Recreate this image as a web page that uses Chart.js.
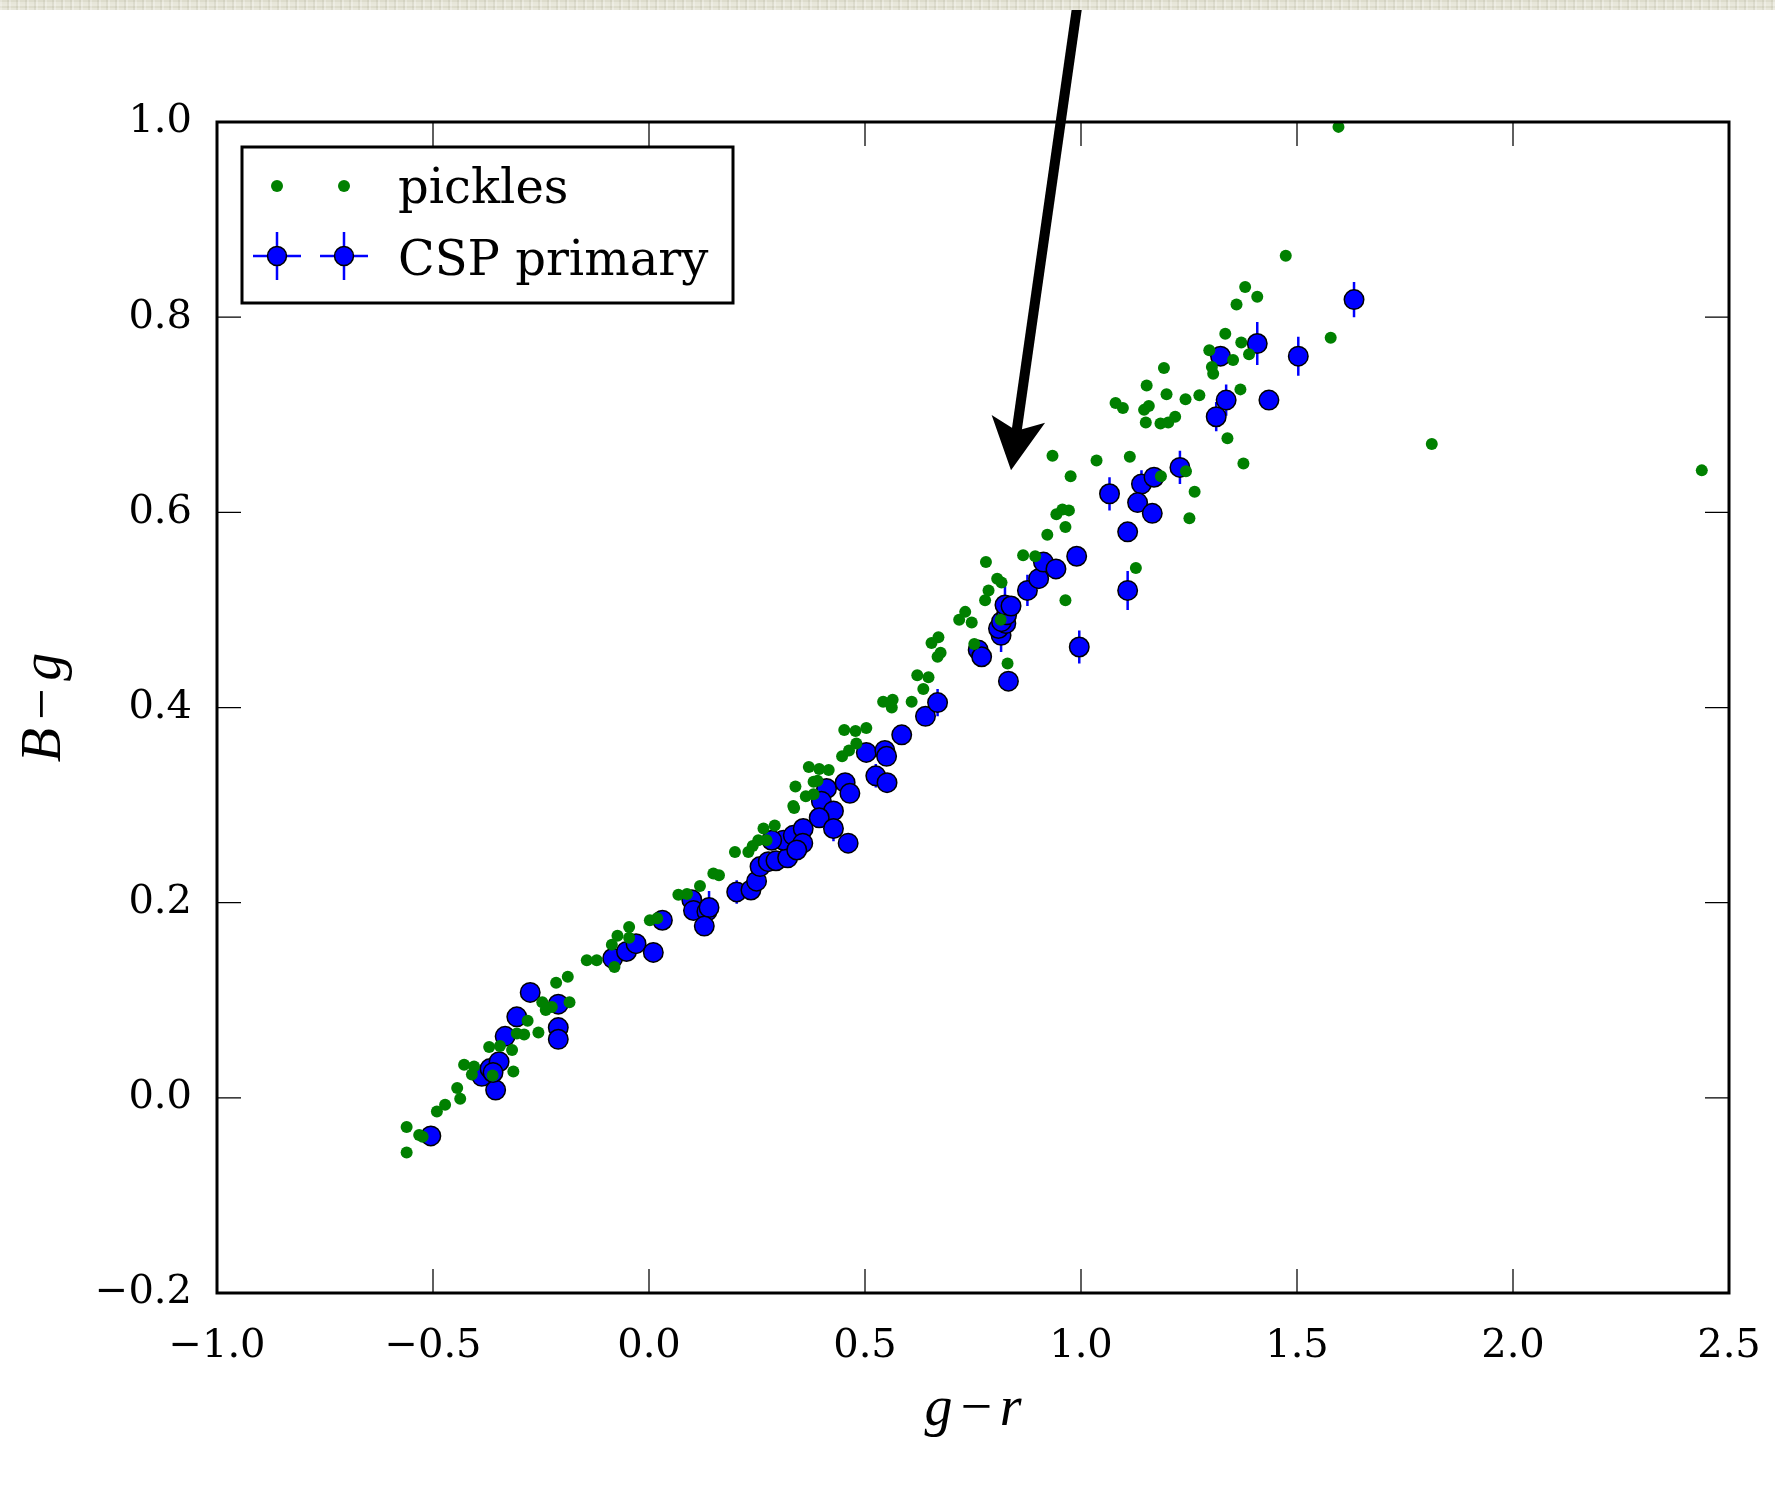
<!DOCTYPE html>
<html>
<head>
<meta charset="utf-8">
<title>B-g vs g-r</title>
<script src="https://cdn.jsdelivr.net/npm/chart.js@4.4.1/dist/chart.umd.min.js"></script>
<style>
  html, body { margin: 0; padding: 0; background: #fff; }
  #wrap { position: relative; width: 1775px; height: 1494px; }
  #strip {
    position: absolute; left: 0; top: 0; width: 1775px; height: 10px; z-index: 2;
    background:
      repeating-linear-gradient(90deg, rgba(255,255,255,0.25) 0 2px, rgba(0,0,0,0) 2px 7px, rgba(120,118,90,0.10) 7px 9px),
      repeating-linear-gradient(0deg, #e7e6d9 0 2px, #dddccc 2px 4px, #e9e8dc 4px 6px);
  }
  canvas { position: absolute; left: 0; top: 0; }
</style>
</head>
<body>
<div id="wrap">
  <div id="strip"></div>
  <canvas id="colorChart" width="1775" height="1494"></canvas>
</div>
<script>
// pickles library stars: g-r and B-g colours
const picklesGR = [
  -0.561, -0.561, -0.532, -0.524, -0.491, -0.472, -0.444, -0.437, -0.428, -0.405,
  -0.410, -0.370, -0.345, -0.317, -0.362, -0.314, -0.306, -0.289, -0.281, -0.256,
  -0.247, -0.239, -0.225, -0.184, -0.215, -0.188, -0.144, -0.121, -0.080, -0.086,
  -0.073, -0.046, -0.046, 0.002, 0.019, 0.068, 0.088, 0.118, 0.149, 0.162,
  0.199, 0.230, 0.240, 0.253, 0.272, 0.265, 0.291, 0.334, 0.336, 0.339,
  0.363, 0.381, 0.381, 0.390, 0.370, 0.394, 0.416, 0.447, 0.463, 0.480,
  0.452, 0.478, 0.503, 0.542, 0.562, 0.608, 0.564, 0.635, 0.621, 0.647,
  0.654, 0.670, 0.668, 0.675, 0.718, 0.732, 0.747, 0.753, 0.778, 0.786,
  0.780, 0.806, 0.816, 0.814, 0.830, 0.866, 0.894, 0.922, 0.943, 0.957,
  0.972, 0.964, 0.964, 1.127, 1.251, 1.192, 1.152, 1.198, 1.242, 1.080,
  1.097, 1.146, 1.157, 1.150, 1.184, 1.202, 1.218, 0.934, 1.036, 1.113,
  0.976, 1.185, 1.243, 1.474, 1.380, 1.408, 1.360, 1.334, 1.371, 1.297,
  1.352, 1.389, 1.303, 1.306, 1.578, 1.274, 1.369, 1.339, 1.376, 1.812,
  2.437, 1.263, 1.596
];
const picklesBG = [
  -0.030, -0.056, -0.038, -0.040, -0.014, -0.007, 0.010, -0.001, 0.034, 0.032,
  0.024, 0.052, 0.053, 0.049, 0.023, 0.027, 0.066, 0.065, 0.079, 0.067,
  0.098, 0.090, 0.093, 0.098, 0.118, 0.124, 0.141, 0.141, 0.134, 0.157,
  0.166, 0.175, 0.164, 0.182, 0.184, 0.208, 0.209, 0.217, 0.230, 0.228,
  0.252, 0.252, 0.258, 0.264, 0.264, 0.276, 0.279, 0.299, 0.297, 0.319,
  0.309, 0.311, 0.324, 0.325, 0.339, 0.337, 0.336, 0.350, 0.356, 0.363,
  0.377, 0.376, 0.379, 0.406, 0.400, 0.406, 0.408, 0.419, 0.433, 0.431,
  0.466, 0.472, 0.452, 0.456, 0.490, 0.498, 0.487, 0.465, 0.510, 0.520,
  0.549, 0.532, 0.528, 0.490, 0.445, 0.556, 0.555, 0.577, 0.598, 0.603,
  0.602, 0.585, 0.510, 0.543, 0.594, 0.748, 0.730, 0.721, 0.716, 0.712,
  0.707, 0.705, 0.709, 0.692, 0.691, 0.692, 0.698, 0.658, 0.653, 0.657,
  0.637, 0.637, 0.642, 0.863, 0.831, 0.821, 0.813, 0.783, 0.774, 0.766,
  0.756, 0.762, 0.749, 0.742, 0.779, 0.720, 0.726, 0.676, 0.650, 0.670,
  0.643, 0.621, 0.995
];

// CSP primary standards with B-g uncertainties
const cspGR = [
  -0.505, -0.355, -0.387, -0.368, -0.347, -0.361, -0.333, -0.306, -0.275, -0.210,
  -0.210, -0.210, -0.084, -0.052, -0.030, 0.010, 0.031, 0.099, 0.103, 0.134,
  0.139, 0.128, 0.203, 0.236, 0.249, 0.257, 0.276, 0.294, 0.321, 0.311,
  0.334, 0.357, 0.356, 0.342, 0.284, 0.411, 0.399, 0.427, 0.394, 0.427,
  0.461, 0.454, 0.465, 0.503, 0.525, 0.546, 0.550, 0.551, 0.585, 0.640,
  0.668, 0.762, 0.770, 0.832, 0.815, 0.809, 0.826, 0.816, 0.828, 0.824,
  0.838, 0.876, 0.902, 0.913, 0.942, 0.990, 0.996, 1.108, 1.108, 1.066,
  1.140, 1.169, 1.131, 1.165, 1.229, 1.632, 1.408, 1.323, 1.503, 1.336,
  1.435, 1.313
];
const cspBG = [
  -0.039, 0.008, 0.022, 0.030, 0.037, 0.026, 0.063, 0.083, 0.108, 0.096,
  0.072, 0.060, 0.143, 0.150, 0.158, 0.149, 0.182, 0.203, 0.192, 0.191,
  0.195, 0.176, 0.211, 0.213, 0.222, 0.237, 0.242, 0.243, 0.246, 0.264,
  0.269, 0.276, 0.261, 0.254, 0.264, 0.317, 0.304, 0.294, 0.287, 0.276,
  0.261, 0.323, 0.312, 0.354, 0.330, 0.356, 0.350, 0.323, 0.372, 0.391,
  0.405, 0.459, 0.452, 0.427, 0.474, 0.481, 0.486, 0.488, 0.495, 0.505,
  0.504, 0.520, 0.532, 0.549, 0.542, 0.555, 0.462, 0.520, 0.580, 0.619,
  0.629, 0.636, 0.610, 0.599, 0.646, 0.818, 0.773, 0.760, 0.760, 0.715,
  0.715, 0.698
];
const cspErr = [
  0.008, 0.008, 0.008, 0.008, 0.008, 0.008, 0.008, 0.008, 0.008, 0.008,
  0.008, 0.008, 0.008, 0.008, 0.008, 0.008, 0.008, 0.008, 0.008, 0.008,
  0.017, 0.008, 0.012, 0.008, 0.008, 0.008, 0.008, 0.008, 0.008, 0.008,
  0.008, 0.008, 0.008, 0.008, 0.008, 0.008, 0.008, 0.008, 0.008, 0.013,
  0.008, 0.008, 0.008, 0.008, 0.012, 0.008, 0.008, 0.008, 0.008, 0.008,
  0.014, 0.008, 0.008, 0.008, 0.017, 0.008, 0.008, 0.008, 0.008, 0.024,
  0.008, 0.016, 0.008, 0.008, 0.008, 0.008, 0.017, 0.020, 0.008, 0.017,
  0.014, 0.008, 0.008, 0.008, 0.017, 0.018, 0.022, 0.008, 0.020, 0.016,
  0.008, 0.015
];

const xTicks = [-1.0, -0.5, 0.0, 0.5, 1.0, 1.5, 2.0, 2.5];
const yTicks = [-0.2, 0.0, 0.2, 0.4, 0.6, 0.8, 1.0];

// arrow annotation, in data units (tail sits above the axes)
const arrowFrom = { x: 0.990, y: 1.115 };
const arrowTo = { x: 0.838, y: 0.643 };

const GREEN = '#008000';
const BLUE = '#0000ff';
const tickFont = { family: 'DejaVu Serif', size: 40 };
const labelFont = { family: 'Liberation Serif', style: 'italic', size: 56 };

function fmtTick(v) {
  return (v < 0 ? '\u2212' : '') + Math.abs(v).toFixed(1);
}

// vertical error bars under the CSP markers
const errorBars = {
  id: 'errorBars',
  beforeDatasetDraw(chart, args) {
    if (args.meta.label !== 'CSP primary') return;
    const { ctx, scales: { x, y } } = chart;
    ctx.save();
    ctx.strokeStyle = BLUE;
    ctx.lineWidth = 2.5;
    ctx.beginPath();
    cspGR.forEach((gr, i) => {
      const px = x.getPixelForValue(gr);
      ctx.moveTo(px, y.getPixelForValue(cspBG[i] - cspErr[i]));
      ctx.lineTo(px, y.getPixelForValue(cspBG[i] + cspErr[i]));
    });
    ctx.stroke();
    ctx.restore();
  }
};

// box frame with inward ticks on all four sides
const axesFrame = {
  id: 'axesFrame',
  afterDatasetsDraw(chart) {
    const { ctx, chartArea: a, scales: { x, y } } = chart;
    const len = 24;
    ctx.save();
    ctx.strokeStyle = '#000';
    ctx.lineWidth = 1.25;
    ctx.beginPath();
    xTicks.forEach(v => {
      const px = x.getPixelForValue(v);
      ctx.moveTo(px, a.bottom); ctx.lineTo(px, a.bottom - len);
      ctx.moveTo(px, a.top); ctx.lineTo(px, a.top + len);
    });
    yTicks.forEach(v => {
      const py = y.getPixelForValue(v);
      ctx.moveTo(a.left, py); ctx.lineTo(a.left + len, py);
      ctx.moveTo(a.right, py); ctx.lineTo(a.right - len, py);
    });
    ctx.stroke();
    ctx.lineWidth = 3;
    ctx.strokeRect(a.left, a.top, a.right - a.left, a.bottom - a.top);
    ctx.restore();
  }
};

function drawCspMarker(ctx, cx, cy) {
  ctx.strokeStyle = BLUE;
  ctx.lineWidth = 2.5;
  ctx.beginPath();
  ctx.moveTo(cx - 24, cy); ctx.lineTo(cx + 24, cy);
  ctx.moveTo(cx, cy - 24); ctx.lineTo(cx, cy + 24);
  ctx.stroke();
  ctx.beginPath();
  ctx.arc(cx, cy, 9.5, 0, Math.PI * 2);
  ctx.fillStyle = BLUE;
  ctx.fill();
  ctx.lineWidth = 1.5;
  ctx.strokeStyle = '#000';
  ctx.stroke();
}

// legend box and arrow drawn last
const overlay = {
  id: 'overlay',
  afterDraw(chart) {
    const { ctx, chartArea: a, scales: { x, y } } = chart;
    ctx.save();

    // legend
    const lx = a.left + 25, ly = a.top + 25, lw = 491, lh = 156;
    ctx.fillStyle = '#fff';
    ctx.fillRect(lx, ly, lw, lh);
    ctx.lineWidth = 3;
    ctx.strokeStyle = '#000';
    ctx.strokeRect(lx, ly, lw, lh);
    [lx + 35, lx + 102].forEach(cx => {
      ctx.beginPath();
      ctx.arc(cx, ly + 39, 6, 0, Math.PI * 2);
      ctx.fillStyle = GREEN;
      ctx.fill();
      drawCspMarker(ctx, cx, ly + 109);
    });
    ctx.fillStyle = '#000';
    ctx.font = '48px "DejaVu Serif"';
    ctx.textBaseline = 'alphabetic';
    ctx.fillText('pickles', lx + 156, ly + 56);
    ctx.fillText('CSP primary', lx + 156, ly + 128);

    // arrow
    const x0 = x.getPixelForValue(arrowFrom.x), y0 = y.getPixelForValue(arrowFrom.y);
    const x1 = x.getPixelForValue(arrowTo.x), y1 = y.getPixelForValue(arrowTo.y);
    const d = Math.hypot(x1 - x0, y1 - y0);
    const ux = (x1 - x0) / d, uy = (y1 - y0) / d;
    const nx = -uy, ny = ux;
    const headLen = 52, notch = 40, halfW = 27;
    ctx.strokeStyle = '#000';
    ctx.lineWidth = 10;
    ctx.beginPath();
    ctx.moveTo(x0 - ux * 20, y0 - uy * 20);
    ctx.lineTo(x1 - ux * (notch - 4), y1 - uy * (notch - 4));
    ctx.stroke();
    ctx.fillStyle = '#000';
    ctx.beginPath();
    ctx.moveTo(x1, y1);
    ctx.lineTo(x1 - ux * headLen + nx * halfW, y1 - uy * headLen + ny * halfW);
    ctx.lineTo(x1 - ux * notch, y1 - uy * notch);
    ctx.lineTo(x1 - ux * headLen - nx * halfW, y1 - uy * headLen - ny * halfW);
    ctx.closePath();
    ctx.fill();

    ctx.restore();
  }
};

const ctx = document.getElementById('colorChart').getContext('2d');
new Chart(ctx, {
  type: 'scatter',
  data: {
    datasets: [
      {
        label: 'pickles',
        data: picklesGR.map((gr, i) => ({ x: gr, y: picklesBG[i] })),
        backgroundColor: GREEN,
        borderWidth: 0,
        pointRadius: 6,
        pointHoverRadius: 6,
        order: 0
      },
      {
        label: 'CSP primary',
        data: cspGR.map((gr, i) => ({ x: gr, y: cspBG[i] })),
        backgroundColor: BLUE,
        borderColor: '#000',
        borderWidth: 1.5,
        pointRadius: 9.75,
        pointHoverRadius: 9.75,
        order: 1
      }
    ]
  },
  options: {
    responsive: false,
    devicePixelRatio: 1,
    animation: false,
    events: [],
    layout: { padding: { left: 0, top: 122, right: 46, bottom: 0 } },
    plugins: { legend: { display: false }, tooltip: { enabled: false } },
    scales: {
      x: {
        type: 'linear',
        min: -1.0,
        max: 2.5,
        afterBuildTicks: s => { s.ticks = xTicks.map(v => ({ value: v })); },
        afterFit: s => { s.height = 201; s.paddingLeft = 0; s.paddingRight = 0; },
        grid: { display: false, drawTicks: false },
        border: { display: false },
        ticks: {
          callback: fmtTick, font: tickFont, color: '#000',
          padding: 30, maxRotation: 0, autoSkip: false
        },
        title: {
          display: true, text: 'g\u200a\u2212\u200ar', font: labelFont, color: '#000',
          padding: { top: 0, bottom: 50 }
        }
      },
      y: {
        type: 'linear',
        min: -0.2,
        max: 1.0,
        afterBuildTicks: s => { s.ticks = yTicks.map(v => ({ value: v })); },
        afterFit: s => { s.width = 217; s.paddingTop = 0; s.paddingBottom = 0; },
        grid: { display: false, drawTicks: false },
        border: { display: false },
        ticks: { callback: fmtTick, font: tickFont, color: '#000', padding: 25, autoSkip: false },
        title: {
          display: true, text: 'B\u200a\u2212\u200ag', font: labelFont, color: '#000',
          padding: { top: 12, bottom: 0 }
        }
      }
    }
  },
  plugins: [errorBars, axesFrame, overlay]
});
</script>
</body>
</html>
